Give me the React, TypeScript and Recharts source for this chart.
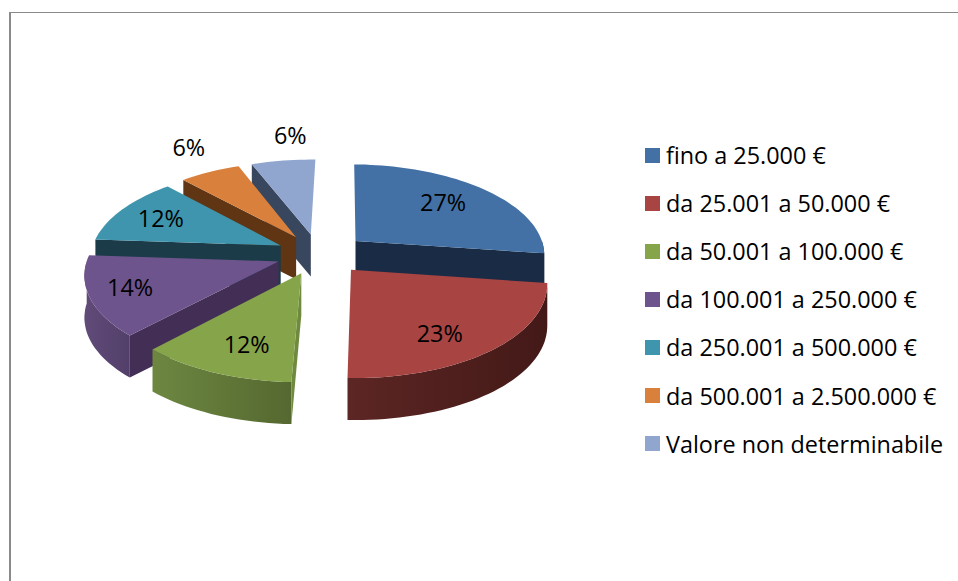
import { Legend, Pie, PieChart } from "recharts";

const categories = [
  "fino a 25.000 €",
  "da 25.001 a 50.000 €",
  "da 50.001 a 100.000 €",
  "da 100.001 a 250.000 €",
  "da 250.001 a 500.000 €",
  "da 500.001 a 2.500.000 €",
  "Valore non determinabile",
];
// the labels show them rounded
const shares = [26.8, 23.4, 11.6, 13.9, 11.9, 6.0, 6.4];

// colours per category: top surface, cut face, outer wall left/right
const topColors = ["#4371a6", "#a84442", "#86a44a", "#6e548d", "#3e95ad", "#d9813c", "#90a6cf"];
const faceColors = ["#1a2c45", "#471b19", "#6f8a3e", "#432f55", "#1a3b47", "#5f3514", "#39475e"];
const wallLeft = ["#1a2c45", "#5c2624", "#6d8741", "#614b79", "#1a3b47", "#5f3514", "#39475e"];
const wallRight = ["#1a2c45", "#431917", "#556830", "#523f69", "#1a3b47", "#5f3514", "#39475e"];

// label placement: distance along the slice, then a small pixel nudge
const labelReach = [0.72, 0.72, 0.72, 0.72, 0.72, 1.34, 1.32];
const labelNudge = [[0, 0], [-4, 7], [6, 1], [-14, 0], [-4, -1], [3, -7], [14, -7]];

// slices are painted back to front, so the table runs counter-clockwise from the end of the first slice
const drawOrder = [0, 6, 5, 4, 3, 2, 1];
const table = drawOrder.map((i) => ({ name: categories[i], value: shares[i], idx: i }));

const CX = 318;
const CY = 254;
const RADIUS = 190;
const TILT = 0.485;
const PERSPECTIVE = 0.13;
const EXPLODE = 0.22;
const RIGHT_STRETCH = 1.2;
const ROTATION = 1.3;
const DEPTH = 42;
const FONT = "'Open Sans', Lato, sans-serif";
const FONT_SIZE = 23.4;

const rad = (deg: number) => (deg * Math.PI) / 180;

function project(cx: number, cy: number, r: number, ux: number, uy: number, lift = 0) {
  const s = 1 + PERSPECTIVE * uy;
  return [cx + r * ux * s, cy + r * TILT * uy * s + lift];
}

function toPath(points: number[][]) {
  return "M" + points.map((p) => `${p[0].toFixed(1)} ${p[1].toFixed(1)}`).join("L") + "Z";
}

// theta is measured clockwise from the top, as in the original chart
function SliceShape(props: any) {
  const { cx, cy, outerRadius: r, startAngle, endAngle, midAngle, payload } = props;
  const idx = payload.idx;
  let a = 90 - Math.max(startAngle, endAngle);
  let b = 90 - Math.min(startAngle, endAngle);
  if (a < -5) {
    a += 360;
    b += 360;
  }
  const mid = rad(90 - midAngle);
  const sx = Math.sin(mid);
  const ox = EXPLODE * sx * (sx > 0 ? RIGHT_STRETCH : 1);
  const oy = -EXPLODE * Math.cos(mid);
  const at = (theta: number, reach: number, lift = 0) =>
    project(cx, cy, r, ox + reach * Math.sin(rad(theta)), oy - reach * Math.cos(rad(theta)), lift);

  const arc = (from: number, to: number, lift = 0) => {
    const pts: number[][] = [];
    const steps = Math.max(2, Math.ceil((to - from) / 2));
    for (let k = 0; k <= steps; k++) pts.push(at(from + ((to - from) * k) / steps, 1, lift));
    return pts;
  };

  const face = (theta: number) =>
    toPath([at(theta, 0), at(theta, 1), at(theta, 1, DEPTH), at(theta, 0, DEPTH)]);

  const wallFrom = Math.max(a, 90);
  const wallTo = Math.min(b, 270);
  const hasWall = wallTo > wallFrom;
  const startVisible = a > 1.5 && Math.sin(rad(a)) < 0.05;
  const endVisible = Math.sin(rad(b)) > 0.05;
  const gradId = `wall-${idx}`;

  return (
    <g>
      <defs>
        <linearGradient id={gradId} x1="0" y1="0" x2="1" y2="0">
          <stop offset="0%" stopColor={wallLeft[idx]} />
          <stop offset="100%" stopColor={wallRight[idx]} />
        </linearGradient>
      </defs>
      {hasWall && (
        <path
          d={toPath([...arc(wallFrom, wallTo), ...arc(wallFrom, wallTo, DEPTH).reverse()])}
          fill={`url(#${gradId})`}
        />
      )}
      {startVisible && <path d={face(a)} fill={faceColors[idx]} />}
      {endVisible && <path d={face(b)} fill={faceColors[idx]} />}
      <path d={toPath([at(a, 0), ...arc(a, b)])} fill={topColors[idx]} />
    </g>
  );
}

function SliceLabel(props: any) {
  const { cx, cy, outerRadius: r, midAngle, value, payload } = props;
  const idx = payload.idx;
  const mid = rad(90 - midAngle);
  const reach = EXPLODE + labelReach[idx];
  const [x, y] = project(cx, cy, r, reach * Math.sin(mid), -reach * Math.cos(mid));
  return (
    <text
      x={x + labelNudge[idx][0]}
      y={y + labelNudge[idx][1]}
      fill="#000"
      fontFamily={FONT}
      fontSize={FONT_SIZE}
      textAnchor="middle"
      dominantBaseline="central"
    >
      {`${Math.round(value)}%`}
    </text>
  );
}

function LegendList() {
  return (
    <div style={{ fontFamily: FONT, fontSize: FONT_SIZE, color: "#000" }}>
      {categories.map((name, i) => (
        <div key={name} style={{ height: 48.1, display: "flex", alignItems: "center", whiteSpace: "nowrap" }}>
          <span style={{ width: 15, height: 15, background: topColors[i], marginRight: 6, flex: "none" }} />
          {name}
        </div>
      ))}
    </div>
  );
}

export default function App() {
  const begin = 90 - (shares[0] * 360) / 100 - ROTATION;
  return (
    <div style={{ position: "absolute", left: 0, top: 0, width: 958, height: 581, overflow: "hidden", background: "#fff" }}>
      <div
        style={{
          position: "absolute",
          left: 9,
          top: 12,
          width: 949,
          height: 569,
          boxSizing: "border-box",
          borderLeft: "2px solid #8a8a8a",
          borderTop: "1px solid #8a8a8a",
        }}
      />
      <div style={{ position: "absolute", left: 0, top: 0 }}>
        <PieChart width={958} height={581} margin={{ top: 0, right: 0, bottom: 0, left: 0 }}>
          <Pie
            data={table}
            dataKey="value"
            nameKey="name"
            cx={CX}
            cy={CY}
            outerRadius={RADIUS}
            startAngle={begin}
            endAngle={begin + 360}
            stroke="none"
            shape={SliceShape}
            label={SliceLabel}
            labelLine={false}
            isAnimationActive={false}
          />
          <Legend
            content={LegendList}
            wrapperStyle={{ position: "absolute", left: 645, top: 131, width: 312, bottom: "auto" }}
          />
        </PieChart>
      </div>
    </div>
  );
}
